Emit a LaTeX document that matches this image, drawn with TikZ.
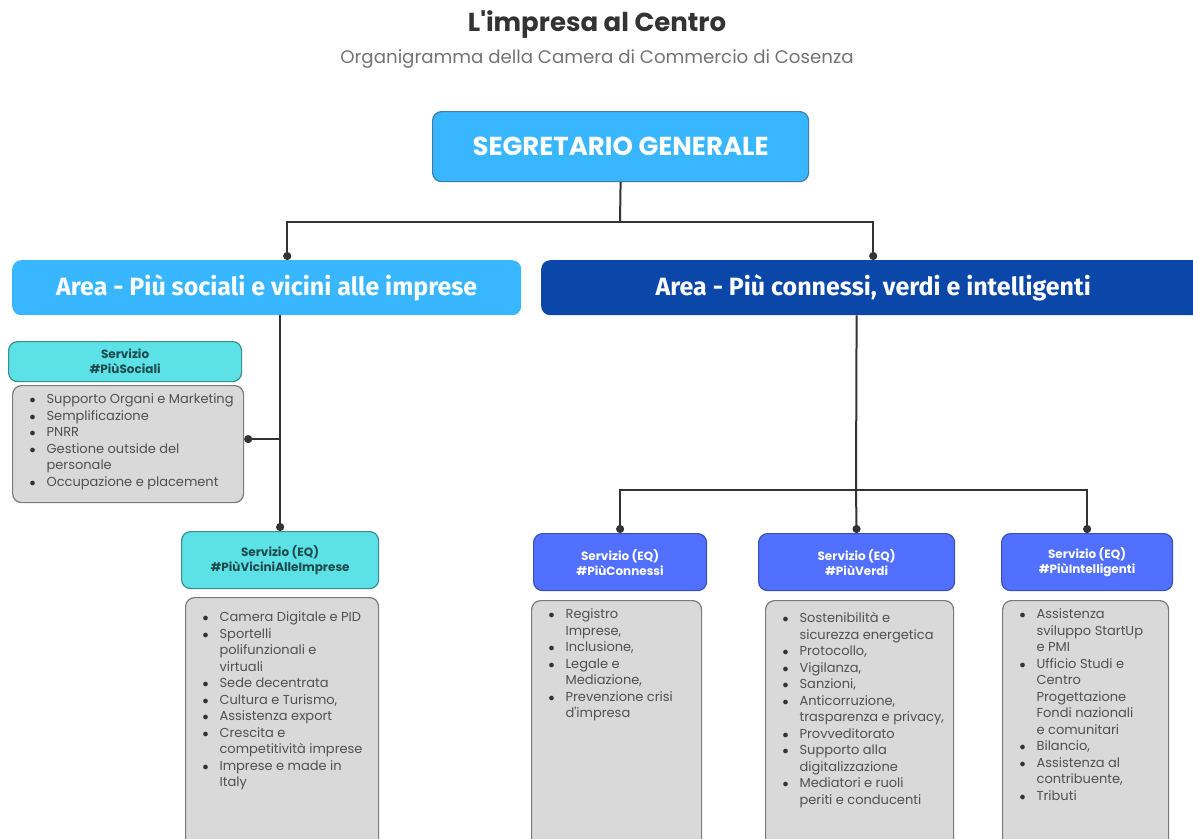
\documentclass[tikz,border=0pt]{standalone}
\usepackage{fontspec}
\setmainfont{Poppins}
\newfontfamily\areafont{Fira Sans}
\usepackage{enumitem}
\usetikzlibrary{arrows.meta, positioning}

\setlist[itemize]{nosep, label={\color{black!80}$\bullet$}, leftmargin=30pt, labelsep=11pt}

\definecolor{skyblue}{HTML}{38B6FF}
\definecolor{skyedge}{HTML}{3F7DA6}
\definecolor{navyblue}{HTML}{0A47A8}
\definecolor{turq}{HTML}{5CE1E6}
\definecolor{turqedge}{HTML}{3D8C90}
\definecolor{turqtext}{HTML}{1E4A4C}
\definecolor{violet}{HTML}{5170FF}
\definecolor{violetedge}{HTML}{3A52B8}
\definecolor{cardgray}{HTML}{D9D9D9}
\definecolor{cardedge}{HTML}{7A7A7A}
\definecolor{listtext}{HTML}{505050}
\definecolor{linegray}{HTML}{333333}

\newcommand{\voci}[4][0pt]{\parbox[t][#3][t]{#2}{\vspace*{#1}\raggedright\begin{itemize}#4\end{itemize}}}

\tikzset{
  box/.style     = {rounded corners=9pt, anchor=north west, inner sep=0pt, align=center},
  topbox/.style  = {box, fill=skyblue, draw=skyedge, line width=1.2pt, text=white,
                    font=\fontsize{26}{30}\selectfont\bfseries},
  areabox/.style = {box, text=white, font=\areafont\fontsize{25}{29}\selectfont\bfseries},
  servizio/.style= {box, line width=1.2pt, font=\fontsize{12}{15}\selectfont\bfseries},
  social/.style  = {servizio, fill=turq, draw=turqedge, text=turqtext},
  digital/.style = {servizio, fill=violet, draw=violetedge, text=white},
  listbox/.style = {box, align=left, fill=cardgray, draw=cardedge, line width=1.2pt,
                    inner xsep=4pt, inner ysep=8pt, text=listtext,
                    font=\fontsize{13}{16.5}\selectfont},
  line/.style    = {draw=linegray, line width=2pt},
  tap/.style     = {line, -{Circle[length=8pt]}}
}

\begin{document}
\begin{tikzpicture}[x=1pt, y=-1pt]
   \clip (0,0) rectangle (1193,838);
   \fill[white] (0,0) rectangle (1193,838);

   \node[text=linegray, font=\fontsize{26}{30}\selectfont\bfseries] (title) at (597,25) {L\textquotesingle impresa al Centro};
   \node[text=black!55, font=\fontsize{18.2}{22}\selectfont] (subtitle) at (597,59) {Organigramma della Camera di Commercio di Cosenza};

   \node[topbox, minimum width=376pt, minimum height=70pt] (seg) at (432,111) {SEGRETARIO GENERALE};
   %
   \node[areabox, fill=skyblue, minimum width=509pt, minimum height=55pt] (lArea) at (12,260) {Area - Più sociali e vicini alle imprese};
   \node[areabox, fill=navyblue, minimum width=664pt, minimum height=55pt] (rArea) at (541,260) {Area - Più connessi, verdi e intelligenti};
   %
   \node[social, minimum width=233pt, minimum height=40pt] (soc) at (8,341) {Servizio\\\#PiùSociali};
   \node[listbox] (socList) at (12,385) {\voci{223pt}{101pt}{%
      \item Supporto Organi e Marketing
      \item Semplificazione
      \item PNRR
      \item Gestione outside del\\ personale
      \item Occupazione e placement}};
   %
   \node[social, minimum width=197pt, minimum height=57pt] (vic) at (181,531) {Servizio (EQ)\\\#PiùViciniAlleImprese};
   \node[listbox] (vicList) at (185,597) {\voci[6pt]{185pt}{240pt}{%
      \item Camera Digitale e PID
      \item Sportelli\\ polifunzionali e\\ virtuali
      \item Sede decentrata
      \item Cultura e Turismo,
      \item Assistenza export
      \item Crescita e\\ competitività imprese
      \item Imprese e made in\\ Italy}};
   %
   \node[digital, minimum width=173pt, minimum height=57pt] (con) at (533,533) {Servizio (EQ)\\\#PiùConnessi};
   \node[listbox] (conList) at (531,600) {\voci{162pt}{240pt}{%
      \item Registro\\ Imprese,
      \item Inclusione,
      \item Legale e\\ Mediazione,
      \item Prevenzione crisi\\ d\textquotesingle impresa}};
   %
   \node[digital, minimum width=196pt, minimum height=57pt] (ver) at (758,533) {Servizio (EQ)\\\#PiùVerdi};
   \node[listbox] (verList) at (765,600) {\voci[4pt]{180pt}{240pt}{%
      \item Sostenibilità e\\ sicurezza energetica
      \item Protocollo,
      \item Vigilanza,
      \item Sanzioni,
      \item Anticorruzione,\\ trasparenza e privacy,
      \item Provveditorato
      \item Supporto alla\\ digitalizzazione
      \item Mediatori e ruoli\\ periti e conducenti}};
   %
   \node[digital, minimum width=171pt, minimum height=57pt] (int) at (1001,533) {Servizio (EQ)\\\#PiùIntelligenti};
   \node[listbox] (intList) at (1002,600) {\voci{158pt}{240pt}{%
      \item Assistenza\\ sviluppo StartUp\\ e PMI
      \item Ufficio Studi e\\ Centro\\ Progettazione\\ Fondi nazionali\\ e comunitari
      \item Bilancio,
      \item Assistenza al\\ contribuente,
      \item Tributi}};

   % connectors
   \coordinate (jTop) at (620,222);
   \coordinate (jR) at (856,490);
   \draw[line] (seg.south) -- (jTop);
   \draw[tap] (jTop) -| ([xshift=20.5pt]lArea.north);
   \draw[tap] (jTop) -| (rArea.north);
   %
   \draw[tap] (lArea.south -| vic.north) -- (vic.north);
   \draw[tap] ([yshift=5pt]socList.east -| vic.north) -- ([yshift=5pt]socList.east);
   %
   \draw[line] (rArea.south -| ver.north) -- (jR);
   \draw[tap] (jR) -- (ver.north);
   \draw[tap] (jR) -| (con.north);
   \draw[tap] (jR) -| (int.north);
\end{tikzpicture}
\end{document}
